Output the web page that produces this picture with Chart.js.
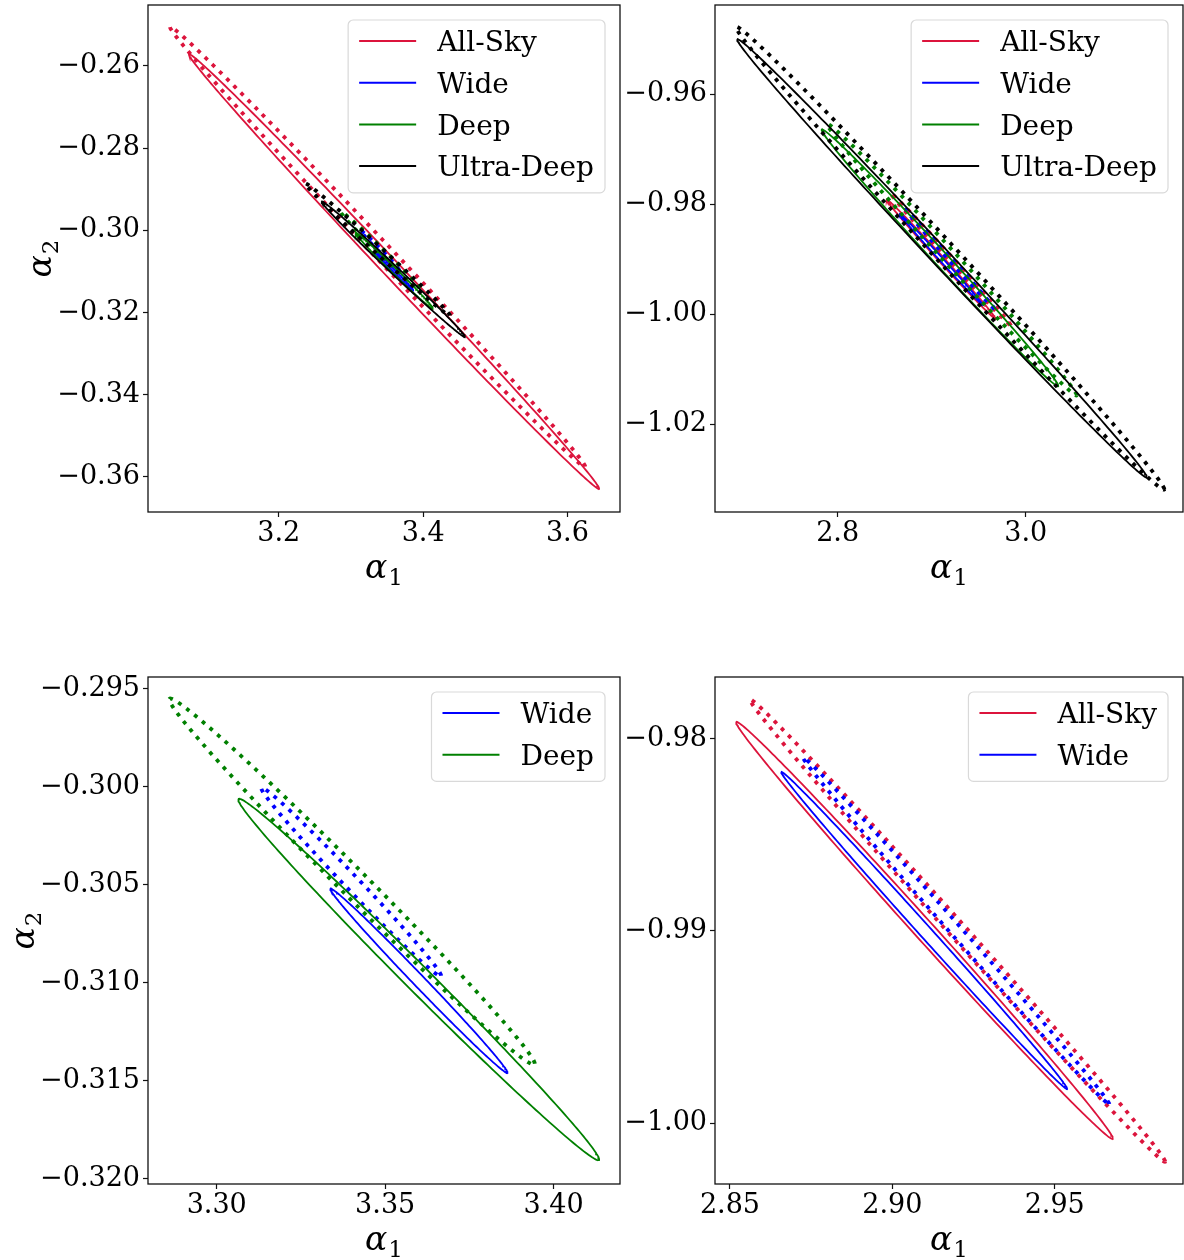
<!DOCTYPE html>
<html>
<head>
<meta charset="utf-8">
<script src="https://cdn.jsdelivr.net/npm/chart.js@4.4.1/dist/chart.umd.min.js"></script>
<style>
  html, body { margin: 0; padding: 0; background: #fff; }
  #wrap { position: relative; width: 1184px; height: 1260px; overflow: hidden; }
  .panel { position: absolute; }
  canvas { display: block; }
</style>
</head>
<body>
<div id="wrap">
  <div class="panel" style="left:0px;top:0px"><canvas id="c1" width="640" height="600"></canvas></div>
  <div class="panel" style="left:620px;top:0px"><canvas id="c2" width="564" height="600"></canvas></div>
  <div class="panel" style="left:0px;top:620px"><canvas id="c3" width="640" height="640"></canvas></div>
  <div class="panel" style="left:620px;top:620px"><canvas id="c4" width="564" height="640"></canvas></div>
</div>
<script>
const surveys = ["All-Sky", "Wide", "Deep", "Ultra-Deep"];
const surveyColors = ["#dc143c", "#0000ff", "#008000", "#000000"];

// ellipses around alpha1 ~ 3.35: [a1 left, a2 left, a1 right, a2 right] per survey
const solidTipsA = [
  [3.0755, -0.25727, 3.6439, -0.3628],
  [3.3337, -0.30522, 3.3863, -0.31459],
  [3.3064, -0.30066, 3.4135, -0.31902],
  [3.2595, -0.29307, 3.4581, -0.32591],
];
const solidHalfA = [0.0030, 0.00043, 0.00092, 0.00134];
const dottedTipsA = [
  [3.0492, -0.25058, 3.6247, -0.35749],
  [3.3132, -0.30007, 3.3666, -0.30965],
  [3.2859, -0.29555, 3.3944, -0.31414],
  [3.2363, -0.28859, 3.4373, -0.32075],
];
const dottedHalfA = [0.0030, 0.00052, 0.00098, 0.0012];

// ellipses around alpha1 ~ 2.9
const solidTipsB = [
  [2.8519, -0.97916, 2.9679, -1.0008],
  [2.8658, -0.98175, 2.9538, -0.99821],
  [2.7830, -0.96650, 3.0345, -1.01297],
  [2.6931, -0.95010, 3.1287, -1.02957],
];
const solidHalfB = [0.00076, 0.00047, 0.0019, 0.0024];
const dottedTipsB = [
  [2.8561, -0.97797, 2.9840, -1.0020],
  [2.8725, -0.98099, 2.9668, -0.99901],
  [2.7889, -0.96549, 3.0542, -1.01468],
  [2.6919, -0.94785, 3.1473, -1.03177],
];
const dottedHalfB = [0.00064, 0.00044, 0.0018, 0.0028];

// axis ranges and ticks for the four panels
const xLim1 = [3.0187, 3.6729], yLim1 = [-0.36852, -0.24521];
const xTicks1 = [3.2, 3.4, 3.6], yTicks1 = [-0.36, -0.34, -0.32, -0.30, -0.28, -0.26];
const xLim2 = [2.6696, 3.1672], yLim2 = [-1.03591, -0.94383];
const xTicks2 = [2.8, 3.0], yTicks2 = [-1.02, -1.00, -0.98, -0.96];
const xLim3 = [3.2796, 3.4197], yLim3 = [-0.32028, -0.2944];
const xTicks3 = [3.30, 3.35, 3.40], yTicks3 = [-0.320, -0.315, -0.310, -0.305, -0.300, -0.295];
const xLim4 = [2.8454, 2.9895], yLim4 = [-1.00317, -0.9768];
const xTicks4 = [2.85, 2.90, 2.95], yTicks4 = [-1.00, -0.99, -0.98];

// axis labels: symbol plus subscript
const xTitle = ["\u03b1", "1"];
const yTitle = ["\u03b1", "2"];

const FONT = "'DejaVu Serif', 'Liberation Serif', serif";
Chart.defaults.font.family = FONT;
Chart.defaults.color = "#000";

function ellipse(tips, half) {
  const [x1, y1, x2, y2] = tips;
  const cx = (x1 + x2) / 2, cy = (y1 + y2) / 2;
  const ax = (x2 - x1) / 2, ay = (y2 - y1) / 2;
  const pts = [];
  for (let i = 0; i <= 240; i++) {
    const t = (i / 240) * 2 * Math.PI;
    pts.push({ x: cx + ax * Math.cos(t), y: cy + ay * Math.cos(t) + half * Math.sin(t) });
  }
  return pts;
}

function ellipseSets(names, solidTips, solidHalf, dottedTips, dottedHalf) {
  const sets = [];
  names.forEach(name => {
    const i = surveys.indexOf(name);
    sets.push({
      label: name, data: ellipse(solidTips[i], solidHalf[i]),
      borderColor: surveyColors[i], borderWidth: 1.8,
      showLine: true, pointRadius: 0, fill: false,
    });
    sets.push({
      label: name + " dotted", data: ellipse(dottedTips[i], dottedHalf[i]),
      borderColor: surveyColors[i], borderWidth: 3.8, borderDash: [3.8, 6.3],
      borderCapStyle: "butt", showLine: true, pointRadius: 0, fill: false,
    });
  });
  // first dataset is painted last, so reverse to keep later surveys on top
  return sets.reverse();
}

// box around the plotting area
const frame = {
  id: "frame",
  afterDatasetsDraw(chart) {
    const a = chart.chartArea, ctx = chart.ctx;
    ctx.save();
    ctx.strokeStyle = "#111";
    ctx.lineWidth = 1.3;
    ctx.strokeRect(a.left, a.top, a.right - a.left, a.bottom - a.top);
    ctx.restore();
  },
};

// alpha with a subscript digit, centred on (x, y) baseline
function drawSymbol(ctx, parts, x, y, rot) {
  ctx.save();
  ctx.translate(x, y);
  ctx.rotate(rot);
  ctx.fillStyle = "#000";
  ctx.textBaseline = "alphabetic";
  ctx.textAlign = "left";
  ctx.font = "italic 33px " + FONT;
  const wa = ctx.measureText(parts[0]).width;
  ctx.font = "23px " + FONT;
  const ws = ctx.measureText(parts[1]).width;
  const x0 = -(wa + 1 + ws) / 2;
  ctx.font = "italic 33px " + FONT;
  ctx.fillText(parts[0], x0, 0);
  ctx.font = "23px " + FONT;
  ctx.fillText(parts[1], x0 + wa + 1, 6.5);
  ctx.restore();
}

const axisTitles = {
  id: "axisTitles",
  afterDraw(chart, args, opts) {
    const a = chart.chartArea, ctx = chart.ctx;
    drawSymbol(ctx, xTitle, (a.left + a.right) / 2, a.bottom + opts.xBase, 0);
    if (opts.yBase) drawSymbol(ctx, yTitle, a.left - opts.yBase, (a.top + a.bottom) / 2, -Math.PI / 2);
  },
};

// legend drawn inside the upper right corner
const boxLegend = {
  id: "boxLegend",
  afterDraw(chart, args, opts) {
    const names = opts.names;
    if (!names) return;
    const ctx = chart.ctx, area = chart.chartArea;
    ctx.save();
    ctx.font = "28px " + FONT;
    const textW = Math.max(...names.map(n => ctx.measureText(n).width));
    const padX = 11, handle = 57, gap = 21, rowH = 41.7;
    const w = padX + handle + gap + textW + padX;
    const h = names.length * rowH + 6;
    const x = area.right - 15 - w, y = area.top + 15;
    ctx.beginPath();
    ctx.roundRect(x, y, w, h, 5);
    ctx.fillStyle = "rgba(255,255,255,0.8)";
    ctx.fill();
    ctx.strokeStyle = "#d9d9d9";
    ctx.lineWidth = 1.2;
    ctx.stroke();
    names.forEach((n, i) => {
      const cy = y + 21 + i * rowH;
      ctx.strokeStyle = surveyColors[surveys.indexOf(n)];
      ctx.lineWidth = 2;
      ctx.beginPath();
      ctx.moveTo(x + padX, cy);
      ctx.lineTo(x + padX + handle, cy);
      ctx.stroke();
      ctx.fillStyle = "#000";
      ctx.textBaseline = "middle";
      ctx.fillText(n, x + padX + handle + gap, cy + 3);
    });
    ctx.restore();
  },
};

function fmt(d) {
  return v => (v < 0 ? "\u2212" : "") + Math.abs(v).toFixed(d);
}

function panel(id, p) {
  new Chart(document.getElementById(id), {
    type: "scatter",
    data: { datasets: p.datasets },
    plugins: [frame, boxLegend, axisTitles],
    options: {
      responsive: false,
      animation: false,
      devicePixelRatio: 1,
      layout: { padding: { top: p.padTop, right: p.padRight, left: 0, bottom: 0 } },
      plugins: {
        legend: { display: false },
        tooltip: { enabled: false },
        boxLegend: { names: p.legend },
        axisTitles: { xBase: 66, yBase: p.yBase },
      },
      scales: {
        x: {
          type: "linear", bounds: "data",
          min: p.xLim[0], max: p.xLim[1],
          afterBuildTicks: s => { s.ticks = p.xTicks.map(v => ({ value: v })); },
          afterFit: s => { s.height = p.xAxisH; s.paddingLeft = 0; s.paddingRight = 0; },
          ticks: { callback: fmt(p.xDec), font: { size: 27 }, padding: 1, maxRotation: 0, autoSkip: false },
          grid: { drawOnChartArea: false, drawTicks: true, tickLength: 5, tickColor: "#111", tickWidth: 1.2 },
          border: { display: false },
        },
        y: {
          type: "linear", bounds: "data",
          min: p.yLim[0], max: p.yLim[1],
          afterBuildTicks: s => { s.ticks = p.yTicks.map(v => ({ value: v })); },
          afterFit: s => { s.width = p.yAxisW; s.paddingTop = 0; s.paddingBottom = 0; },
          ticks: { callback: fmt(p.yDec), font: { size: 27 }, padding: 3, autoSkip: false },
          grid: { drawOnChartArea: false, drawTicks: true, tickLength: 5, tickColor: "#111", tickWidth: 1.2 },
          border: { display: false },
        },
      },
    },
  });
}

panel("c1", {
  datasets: ellipseSets(surveys, solidTipsA, solidHalfA, dottedTipsA, dottedHalfA),
  legend: surveys,
  xLim: xLim1, yLim: yLim1, xTicks: xTicks1, yTicks: yTicks1, xDec: 1, yDec: 2,
  padTop: 5, padRight: 20, yAxisW: 148, xAxisH: 88, yBase: 97,
});

panel("c2", {
  datasets: ellipseSets(surveys, solidTipsB, solidHalfB, dottedTipsB, dottedHalfB),
  legend: surveys,
  xLim: xLim2, yLim: yLim2, xTicks: xTicks2, yTicks: yTicks2, xDec: 1, yDec: 2,
  padTop: 5, padRight: 1, yAxisW: 95, xAxisH: 88, yBase: 0,
});

panel("c3", {
  datasets: ellipseSets(["Wide", "Deep"], solidTipsA, solidHalfA, dottedTipsA, dottedHalfA),
  legend: ["Wide", "Deep"],
  xLim: xLim3, yLim: yLim3, xTicks: xTicks3, yTicks: yTicks3, xDec: 2, yDec: 3,
  padTop: 57, padRight: 20, yAxisW: 148, xAxisH: 76, yBase: 114,
});

panel("c4", {
  datasets: ellipseSets(["All-Sky", "Wide"], solidTipsB, solidHalfB, dottedTipsB, dottedHalfB),
  legend: ["All-Sky", "Wide"],
  xLim: xLim4, yLim: yLim4, xTicks: xTicks4, yTicks: yTicks4, xDec: 2, yDec: 2,
  padTop: 57, padRight: 1, yAxisW: 95, xAxisH: 76, yBase: 0,
});
</script>
</body>
</html>
